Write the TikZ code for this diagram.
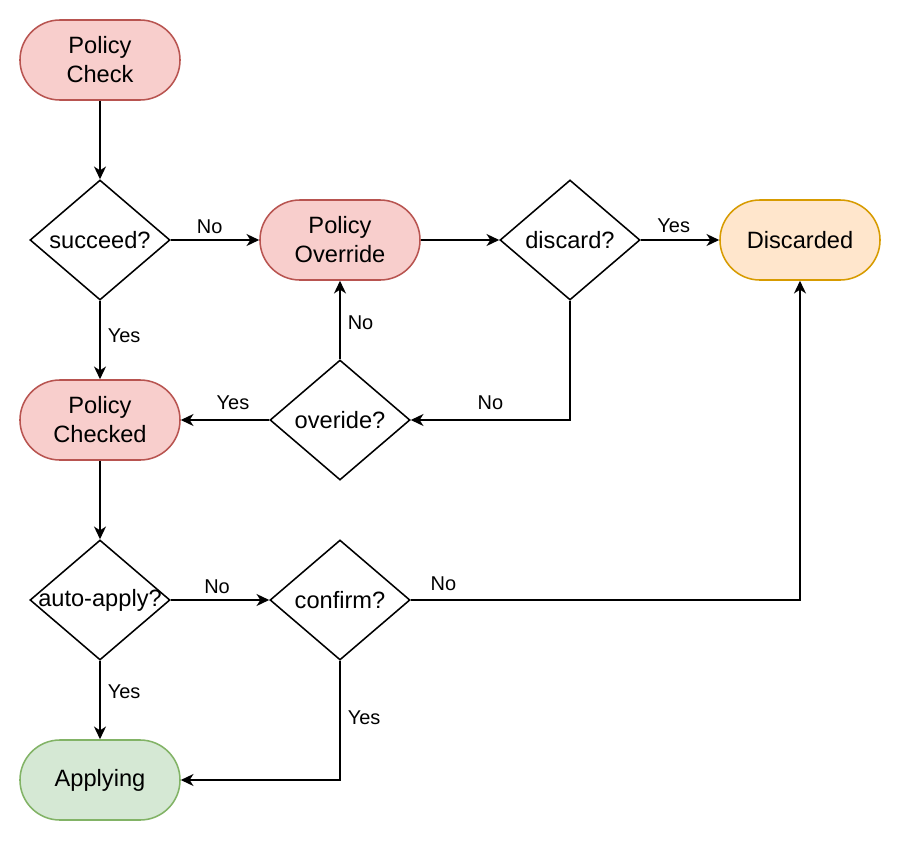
\documentclass[tikz,border=0pt]{standalone}
\usepackage{fontspec}
\setmainfont{Liberation Sans}
\usepackage{tikz}
\usetikzlibrary{shapes.geometric, positioning, arrows.meta}
\definecolor{redfill}{HTML}{F8CECC}
\definecolor{redline}{HTML}{B85450}
\definecolor{orangefill}{HTML}{FFE6CC}
\definecolor{orangeline}{HTML}{D79B00}
\definecolor{greenfill}{HTML}{D5E8D4}
\definecolor{greenline}{HTML}{82B366}

\begin{document}
\begin{tikzpicture}[x=0.025cm, y=-0.025cm,
  state/.style={draw=redline, fill=redfill, line width=1.1pt, rounded corners=1cm,
                minimum width=4cm, minimum height=2cm, align=center,
                font=\fontsize{16.8}{20.6}\selectfont},
  decision/.style={diamond, draw, line width=1.1pt, minimum width=3.5cm,
                   minimum height=3cm, inner sep=0pt,
                   label={[font=\fontsize{16.8}{20.6}\selectfont]center:#1}},
  lbl/.style={font=\fontsize{14.2}{17}\selectfont, inner sep=1pt},
  arrow/.style={-{Stealth[length=9pt, width=8.5pt, inset=2.7pt]}, line width=1.1pt}
]
\useasboundingbox (0,0) rectangle (902,842);
\node[state] (chk) at (100,60) {Policy\\Check};
\node[decision=succeed?] (succ) at (100,240) {};
\node[state] (ovr) at (340,240) {Policy\\Override};
\node[decision=discard?] (disc) at (570,240) {};
\node[state, draw=orangeline, fill=orangefill] (dsc) at (800,240) {Discarded};
\node[state] (chkd) at (100,420) {Policy\\Checked};
\node[decision=overide?] (ovrq) at (340,420) {};
\node[decision=auto-apply?] (auto) at (100,600) {};
\node[decision=confirm?] (conf) at (340,600) {};
\node[state, draw=greenline, fill=greenfill] (appl) at (100,780) {Applying};
\draw[arrow] (chk) -- (succ);
\draw[arrow] (succ) -- node[lbl, above=3pt, pos=0.44] {No} (ovr);
\draw[arrow] (succ) -- node[lbl, right=4pt, pos=0.45] {Yes} (chkd);
\draw[arrow] (ovr) -- (disc);
\draw[arrow] (disc) -- node[lbl, above=4pt, pos=0.42] {Yes} (dsc);
\draw[arrow] (disc.south) |- node[lbl, above=6pt, pos=0.75] {No} (ovrq.east);
\draw[arrow] (ovrq) -- node[lbl, right=4pt, pos=0.47] {No} (ovr);
\draw[arrow] (ovrq) -- node[lbl, above=6pt, pos=0.41] {Yes} (chkd);
\draw[arrow] (chkd) -- (auto);
\draw[arrow] (auto) -- node[lbl, above=3pt, pos=0.47] {No} (conf);
\draw[arrow] (conf.east) -| node[lbl, above=5pt, pos=0.042] {No} (dsc.south);
\draw[arrow] (auto) -- node[lbl, right=4pt, pos=0.4] {Yes} (appl);
\draw[arrow] (conf.south) |- node[lbl, right=4pt, pos=0.24] {Yes} (appl.east);
\end{tikzpicture}
\end{document}
